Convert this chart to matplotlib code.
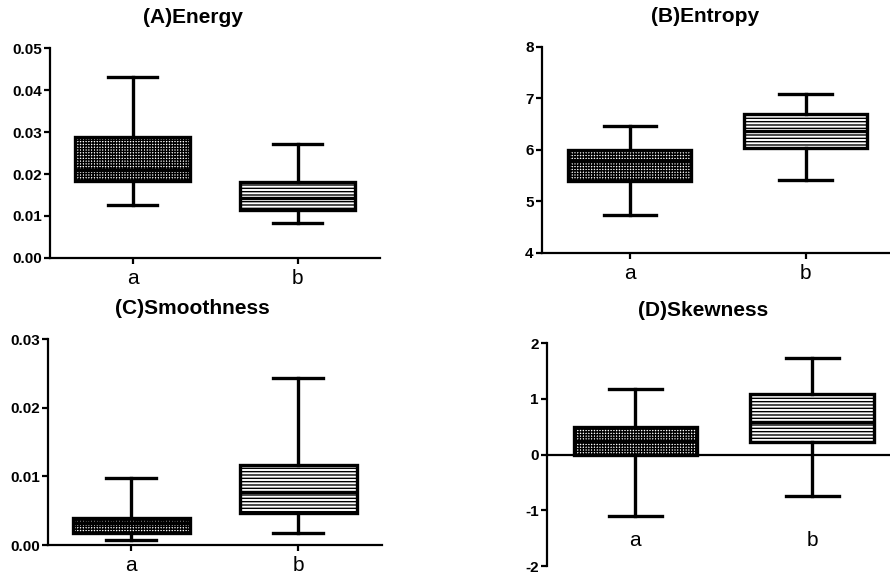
import matplotlib
matplotlib.use("Agg")
import matplotlib.pyplot as plt

plt.rcParams['font.family'] = ['Liberation Sans', 'DejaVu Sans']
plt.rcParams['hatch.linewidth'] = 1.0

groups = ['a', 'b']

# (whislo, q1, med, q3, whishi) per group
energy_lo = [0.0125, 0.0083]
energy_q1 = [0.0183, 0.0114]
energy_med = [0.0210, 0.0143]
energy_q3 = [0.0288, 0.0181]
energy_hi = [0.0432, 0.0272]

entropy_lo = [4.74, 5.41]
entropy_q1 = [5.39, 6.03]
entropy_med = [5.79, 6.37]
entropy_q3 = [5.99, 6.70]
entropy_hi = [6.47, 7.09]

smooth_lo = [0.0007, 0.0017]
smooth_q1 = [0.0017, 0.0047]
smooth_med = [0.0032, 0.0077]
smooth_q3 = [0.0040, 0.0116]
smooth_hi = [0.0097, 0.0244]

skew_lo = [-1.11, -0.74]
skew_q1 = [0.00, 0.23]
skew_med = [0.25, 0.58]
skew_q3 = [0.50, 1.08]
skew_hi = [1.17, 1.74]

titles = ['(A)Energy', '(B)Entropy', '(C)Smoothness', '(D)Skewness']
yticks_A = [0.00, 0.01, 0.02, 0.03, 0.04, 0.05]
yticks_B = [4, 5, 6, 7, 8]
yticks_C = [0.00, 0.01, 0.02, 0.03]
yticks_D = [-2, -1, 0, 1, 2]

fig = plt.figure(figsize=(8.9, 5.8), dpi=100)

def make_stats(lo, q1, med, q3, hi):
    return [dict(whislo=lo[i], q1=q1[i], med=med[i], q3=q3[i], whishi=hi[i],
                 fliers=[], label=groups[i]) for i in range(len(groups))]

def draw(rect, stats, title, yticks, ylim, fmt, xlim, title_x, title_y, zero_axis=False):
    ax = fig.add_axes(rect)
    bp = ax.bxp(stats, positions=[1, 2], widths=0.7, patch_artist=True,
                showfliers=False,
                boxprops=dict(linewidth=2.4, edgecolor='black', facecolor='white'),
                whiskerprops=dict(linewidth=2.4, color='black'),
                capprops=dict(linewidth=2.4, color='black'),
                medianprops=dict(linewidth=2.4, color='black'),
                capwidths=0.3)
    bp['boxes'][0].set_hatch('++++++')
    bp['boxes'][1].set_hatch('-----')
    for s in ['top', 'right']:
        ax.spines[s].set_visible(False)
    if zero_axis:
        ax.spines['bottom'].set_position(('data', 0))
    ax.spines['left'].set_linewidth(1.6)
    ax.spines['bottom'].set_linewidth(1.6)
    ax.set_xlim(*xlim)
    ax.set_ylim(*ylim)
    ax.set_yticks(yticks)
    ax.set_yticklabels([fmt.format(v) for v in yticks], fontweight='bold', fontsize=11)
    ax.set_xticks([1, 2])
    ax.set_xticklabels(groups, fontsize=15)
    ax.tick_params(axis='y', direction='out', length=4, width=1.6, pad=2)
    if zero_axis:
        ax.tick_params(axis='x', length=0, pad=55)
    else:
        ax.tick_params(axis='x', direction='out', length=4, width=1.6, pad=4)
    ax.text(title_x, title_y, title, transform=ax.transAxes, ha='center', va='center',
            fontsize=15, fontweight='bold')
    return ax

draw([0.0562, 0.5552, 0.3708, 0.362], make_stats(energy_lo, energy_q1, energy_med, energy_q3, energy_hi),
     titles[0], yticks_A, (0, 0.05), '{:.2f}', (0.5, 2.5), 0.433, 1.143)
draw([0.609, 0.5638, 0.391, 0.3557], make_stats(entropy_lo, entropy_q1, entropy_med, entropy_q3, entropy_hi),
     titles[1], yticks_B, (4, 8), '{:d}', (0.5, 2.48), 0.468, 1.144)
draw([0.0539, 0.0603, 0.375, 0.355], make_stats(smooth_lo, smooth_q1, smooth_med, smooth_q3, smooth_hi),
     titles[2], yticks_C, (0, 0.03), '{:.2f}', (0.5, 2.5), 0.434, 1.150)
draw([0.6146, 0.0241, 0.3854, 0.3845], make_stats(skew_lo, skew_q1, skew_med, skew_q3, skew_hi),
     titles[3], yticks_D, (-2, 2), '{:d}', (0.5, 2.44), 0.456, 1.148, zero_axis=True)

fig.savefig('out.png', dpi=100)
